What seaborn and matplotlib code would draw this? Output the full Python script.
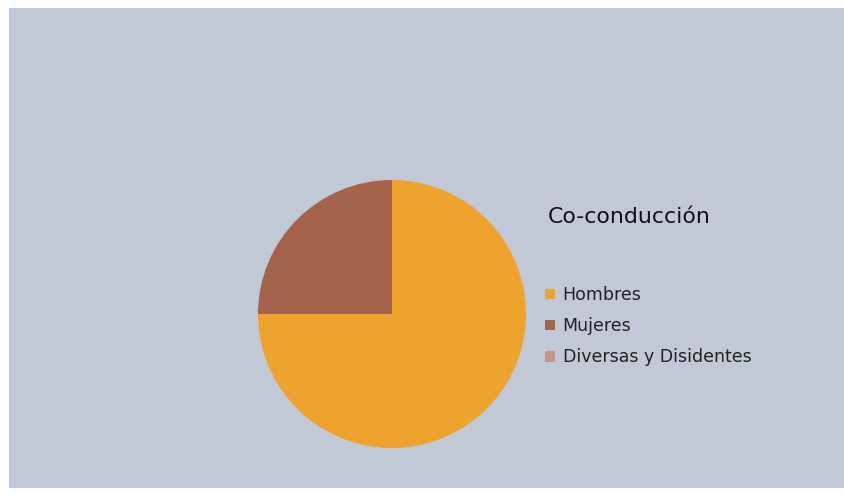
import matplotlib
matplotlib.use("Agg")
import matplotlib.pyplot as plt
import seaborn as sns
from matplotlib.patches import Rectangle

sns.set_theme(style="white")
plt.rcParams['font.family'] = ['DejaVu Sans']

title = "Co-conducción"
categories = ["Hombres", "Mujeres", "Diversas y Disidentes"]
values = [75, 25, 0]
colors = sns.color_palette(["#EFA32F", "#A3644B", "#C4968A"])
bg = "#C1C9D6"

W, H = 845, 494
fig = plt.figure(figsize=(W / 100, H / 100), dpi=100, facecolor="white")
fig.patches.append(Rectangle((9 / W, (H - 488) / H), (845 - 9) / W, (488 - 8) / H,
                             transform=fig.transFigure, facecolor=bg, edgecolor="none", zorder=-5))

cx, cy, r = 392, 314, 134
ax = fig.add_axes([(cx - r) / W, (H - cy - r) / H, 2 * r / W, 2 * r / H])
ax.set_facecolor("none")
wedges, _ = ax.pie(values, colors=colors, startangle=90, counterclock=False,
                   wedgeprops=dict(linewidth=0))
ax.set_xlim(-1, 1)
ax.set_ylim(-1, 1)
ax.set_aspect("equal")
ax.axis("off")

fig.text(548 / W, 1 - 217 / H, title, fontsize=15.8, color="#111111", va="center", ha="left")

leg = fig.legend(wedges, categories, loc="upper left",
                 bbox_to_anchor=(545 / W, 1 - 286 / H), frameon=False,
                 fontsize=12.5, handlelength=0.57, handleheight=0.57,
                 handletextpad=0.45, labelspacing=0.76, borderpad=0, borderaxespad=0)
for t in leg.get_texts():
    t.set_color("#222222")

fig.savefig("out.png", dpi=100, facecolor="white")
